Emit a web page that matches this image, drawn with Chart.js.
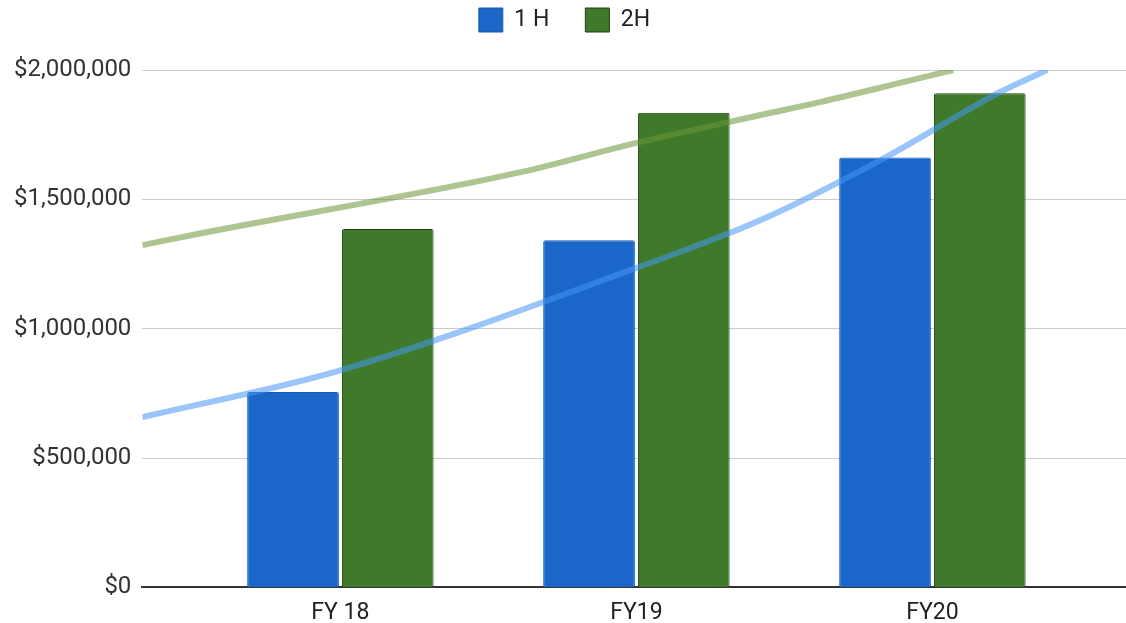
<!DOCTYPE html>
<html>
<head>
<meta charset="utf-8">
<title>1H / 2H by fiscal year</title>
<script src="https://cdn.jsdelivr.net/npm/chart.js@4.4.1/dist/chart.umd.min.js"></script>
<style>
    html, body { margin: 0; padding: 0; background: #fff; }
    #wrap { width: 1126px; height: 623px; }
</style>
</head>
<body>
<div id="wrap"><canvas id="salesChart"></canvas></div>
<script>
const categories = ['FY 18', 'FY19', 'FY20'];
const firstHalf = [755000, 1342000, 1662000];
const secondHalf = [1385000, 1835000, 1910000];
const yTicks = [0, 500000, 1000000, 1500000, 2000000];

// trendlines (x = category position)
const trend1HX = [-0.669, 0, 1, 1.42, 1.825, 2.229, 2.388];
const trend1HY = [658000, 839000, 1235000, 1420000, 1652000, 1915000, 2000000];
const trend2HX = [-0.669, -0.47, 0.61, 1, 1.42, 1.62, 1.89, 2.07];
const trend2HY = [1323000, 1369000, 1605000, 1718000, 1826000, 1876000, 1950000, 2000000];

const toPoints = (xs, ys) => xs.map((x, i) => ({ x: x, y: ys[i] }));
const barPoints = values => values.map((v, i) => ({ x: i, y: v }));

const money = v => '$' + Number(v).toLocaleString('en-US');

// extra room between the legend and the plot
const legendGap = {
    id: 'legendGap',
    beforeInit(chart) {
        const fitLegend = chart.legend.fit;
        chart.legend.fit = function () {
            fitLegend.bind(chart.legend)();
            this.height += 28;
        };
    }
};

const ctx = document.getElementById('salesChart').getContext('2d');

new Chart(ctx, {
    type: 'bar',
    data: {
        datasets: [
            {
                label: '1 H',
                data: barPoints(firstHalf),
                backgroundColor: '#1b66c9',
                borderColor: '#1559b4',
                borderWidth: 1,
                borderRadius: 2,
                borderSkipped: 'bottom',
                categoryPercentage: 0.64,
                barPercentage: 0.968,
                order: 1
            },
            {
                label: '2H',
                data: barPoints(secondHalf),
                backgroundColor: '#3e7a29',
                borderColor: '#1f3d12',
                borderWidth: 1,
                borderRadius: 2,
                borderSkipped: 'bottom',
                categoryPercentage: 0.64,
                barPercentage: 0.968,
                order: 1
            },
            {
                type: 'line',
                label: 'trend 1H',
                data: toPoints(trend1HX, trend1HY),
                borderColor: 'rgba(70, 150, 245, 0.55)',
                borderWidth: 6,
                pointRadius: 0,
                tension: 0.4,
                cubicInterpolationMode: 'monotone',
                clip: 0,
                order: 0
            },
            {
                type: 'line',
                label: 'trend 2H',
                data: toPoints(trend2HX, trend2HY),
                borderColor: 'rgba(105, 150, 55, 0.55)',
                borderWidth: 6,
                pointRadius: 0,
                tension: 0.4,
                cubicInterpolationMode: 'monotone',
                clip: 0,
                order: 0
            }
        ]
    },
    options: {
        responsive: true,
        maintainAspectRatio: false,
        animation: false,
        layout: {
            padding: { top: -28, left: 3, right: 0, bottom: -16 }
        },
        plugins: {
            tooltip: { enabled: false },
            legend: {
                position: 'top',
                labels: {
                    boxWidth: 24,
                    boxHeight: 24,
                    padding: 36,
                    color: '#222',
                    font: { family: 'Roboto', size: 23 },
                    filter: item => item.datasetIndex < 2
                }
            }
        },
        scales: {
            x: {
                type: 'linear',
                offset: false,
                min: -0.669,
                max: 2.654,
                afterBuildTicks: scale => {
                    scale.ticks = categories.map((c, i) => ({ value: i }));
                },
                ticks: {
                    autoSkip: false,
                    maxRotation: 0,
                    padding: 12,
                    color: '#222',
                    font: { family: 'Roboto', size: 23 },
                    callback: value => categories[value]
                },
                grid: { display: false, drawTicks: false, offset: false },
                border: { display: true, color: '#333', width: 2 }
            },
            y: {
                min: 0,
                max: 2000000,
                afterBuildTicks: scale => {
                    scale.ticks = yTicks.map(v => ({ value: v }));
                },
                ticks: {
                    padding: 11,
                    color: '#333',
                    font: { family: 'Roboto', size: 24 },
                    callback: value => money(value)
                },
                grid: {
                    drawTicks: false,
                    color: c => (c.tick && c.tick.value === 0 ? 'rgba(0,0,0,0)' : '#cccccc'),
                    lineWidth: 1
                },
                border: { display: false }
            }
        }
    },
    plugins: [legendGap]
});
</script>
</body>
</html>
